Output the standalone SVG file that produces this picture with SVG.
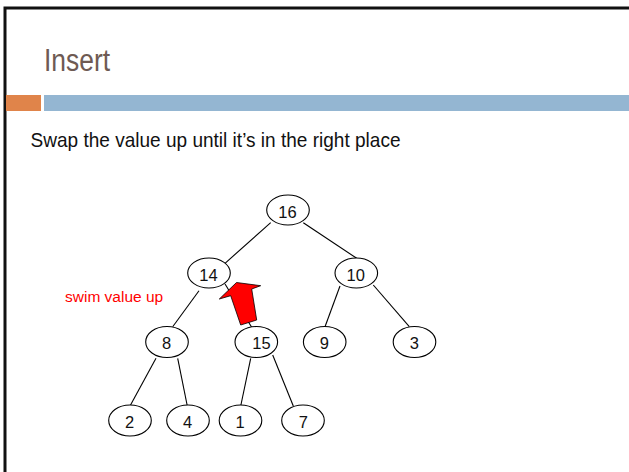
<svg xmlns="http://www.w3.org/2000/svg" width="629" height="472" viewBox="0 0 629 472">
<style>
.n ellipse{fill:#fff;stroke:#000;stroke-width:1.1}
.n text{font-family:"Liberation Sans",Arial,sans-serif;font-size:16.5px;fill:#111;text-anchor:middle}
.e line{stroke:#000;stroke-width:1.1}
</style>
<rect width="629" height="472" fill="#fff"/>
<path d="M5,472 V8 H629" fill="none" stroke="#111" stroke-width="3"/>
<rect x="6" y="95" width="35" height="16" fill="#E0844A"/>
<rect x="44" y="95" width="585" height="16" fill="#94B6D2"/>
<text x="44" y="70.5" font-family="'Liberation Sans',Arial,sans-serif" font-size="31" fill="#6E5A53" textLength="66" lengthAdjust="spacingAndGlyphs">Insert</text>
<text x="30.5" y="146.5" font-family="'Liberation Sans',Arial,sans-serif" font-size="21" fill="#111" textLength="370" lengthAdjust="spacingAndGlyphs">Swap the value up until it’s in the right place</text>
<g id="connectors" class="e">
<line x1="270.7" y1="222.7" x2="225" y2="263.3"/>
<line x1="303.3" y1="222.7" x2="356.7" y2="258.3"/>
<line x1="199" y1="290.7" x2="172.7" y2="326.7"/>
<line x1="225" y1="284" x2="251.7" y2="327.3"/>
<line x1="340" y1="286" x2="325" y2="326.7"/>
<line x1="373.3" y1="285" x2="409.3" y2="326.7"/>
<line x1="156" y1="358.3" x2="130" y2="406"/>
<line x1="177.7" y1="358.3" x2="187.3" y2="406"/>
<line x1="250.7" y1="358.3" x2="240.7" y2="406"/>
<line x1="272.7" y1="355" x2="293.3" y2="406"/>
</g>
<g id="node16" class="n"><ellipse cx="288" cy="210" rx="21.3" ry="15"/><text x="287.5" y="218">16</text></g>
<g id="node14" class="n"><ellipse cx="209" cy="273" rx="21.3" ry="15"/><text x="208.5" y="281">14</text></g>
<g id="node10" class="n"><ellipse cx="356.3" cy="273" rx="21.3" ry="15"/><text x="355.7" y="281">10</text></g>
<g id="node8" class="n"><ellipse cx="167" cy="342" rx="21.3" ry="15.5"/><text x="166.7" y="349">8</text></g>
<g id="node15" class="n"><ellipse cx="256.3" cy="342" rx="21.3" ry="15.5"/><text x="261.5" y="349">15</text></g>
<g id="node9" class="n"><ellipse cx="324.7" cy="342" rx="21.3" ry="15.5"/><text x="324.3" y="349">9</text></g>
<g id="node3" class="n"><ellipse cx="414.5" cy="342" rx="21.3" ry="15.5"/><text x="414.3" y="349">3</text></g>
<g id="node2" class="n"><ellipse cx="130" cy="420.5" rx="21.3" ry="15.5"/><text x="129.5" y="428">2</text></g>
<g id="node4" class="n"><ellipse cx="188" cy="420.5" rx="21.3" ry="15.5"/><text x="187.7" y="428">4</text></g>
<g id="node1" class="n"><ellipse cx="240.5" cy="420.5" rx="21.3" ry="15.5"/><text x="240" y="428">1</text></g>
<g id="node7" class="n"><ellipse cx="303" cy="420.5" rx="21.3" ry="15.5"/><text x="303.3" y="428">7</text></g>
<polygon id="arrow" points="236.5,282.5 260.7,285.7 251.7,289 256.7,320 240.7,325 230.7,295.7 219.3,299" fill="#ff0000" stroke="#000" stroke-width="0.8" stroke-linejoin="miter"/>
<text x="65" y="301.7" font-family="'Liberation Sans',Arial,sans-serif" font-size="15.5" fill="#ff0000">swim value up</text>
</svg>
